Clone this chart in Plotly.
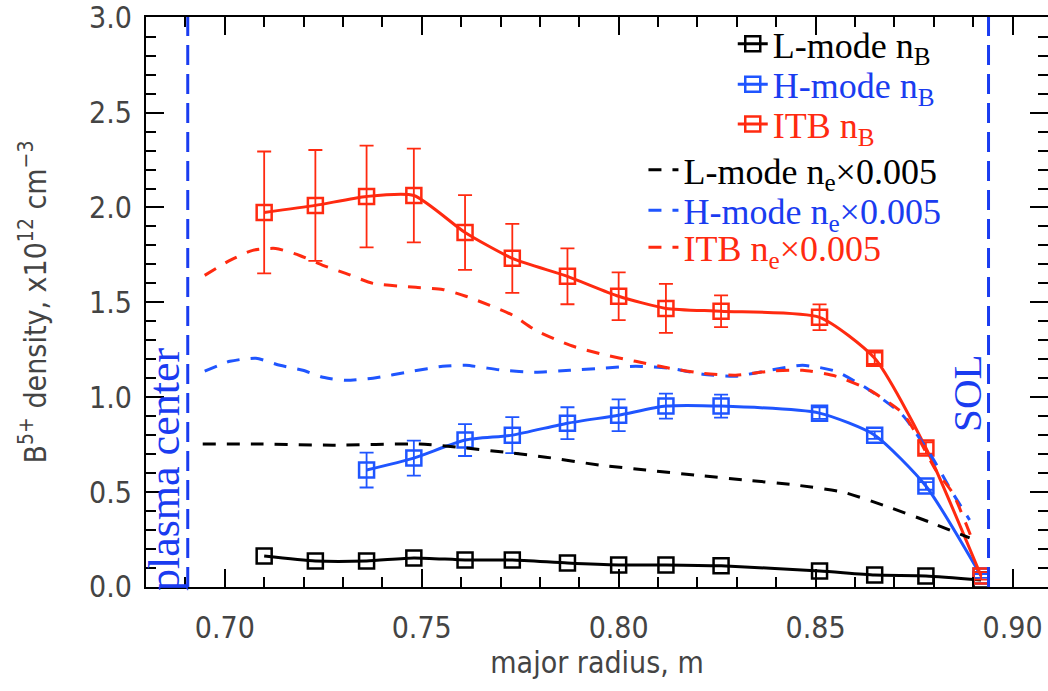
import plotly.graph_objects as go

# ---------------- data ----------------
radius_B = [0.710, 0.723, 0.736, 0.748, 0.761, 0.773, 0.787, 0.800, 0.812, 0.826, 0.851, 0.865, 0.878, 0.892]
lmode_nB = [0.163, 0.137, 0.137, 0.153, 0.142, 0.142, 0.126, 0.116, 0.116, 0.111, 0.084, 0.063, 0.058, 0.037]

radius_H = [0.736, 0.748, 0.761, 0.773, 0.787, 0.800, 0.812, 0.826, 0.851, 0.865, 0.878, 0.892]
hmode_nB = [0.616, 0.679, 0.774, 0.800, 0.863, 0.905, 0.953, 0.953, 0.916, 0.800, 0.532, 0.058]
hmode_err = [0.092, 0.092, 0.084, 0.095, 0.084, 0.084, 0.066, 0.061, 0.03, 0.02, 0.02, 0.01]

itb_nB = [1.974, 2.011, 2.058, 2.063, 1.868, 1.732, 1.637, 1.532, 1.468, 1.453, 1.421, 1.205, 0.732, 0.058]
itb_err = [0.321, 0.292, 0.268, 0.247, 0.197, 0.182, 0.147, 0.126, 0.129, 0.084, 0.068, 0.03, 0.03, 0.02]

radius_L_ne = [0.6944, 0.7096, 0.7274, 0.7495, 0.7612, 0.7731, 0.7815, 0.7952, 0.8069, 0.8195,
               0.8322, 0.8449, 0.8569, 0.8678, 0.8789, 0.8891]
lmode_ne = [0.753, 0.753, 0.747, 0.753, 0.732, 0.705, 0.684, 0.642, 0.616, 0.589,
            0.563, 0.537, 0.500, 0.426, 0.342, 0.258]

radius_I_ne = [0.6949, 0.7013, 0.7071, 0.7129, 0.7190, 0.7249, 0.7307, 0.7376, 0.7485, 0.7553,
               0.7612, 0.7673, 0.7731, 0.7789, 0.7876, 0.7959, 0.8043, 0.8129, 0.8213, 0.8297,
               0.8383, 0.8467, 0.8551, 0.8637, 0.8721, 0.8754, 0.8805, 0.8848, 0.8893]
itb_ne = [1.642, 1.721, 1.774, 1.784, 1.747, 1.695, 1.653, 1.600, 1.579, 1.568,
          1.532, 1.484, 1.432, 1.353, 1.274, 1.226, 1.189, 1.153, 1.126, 1.116,
          1.137, 1.142, 1.111, 1.037, 0.916, 0.811, 0.616, 0.495, 0.274]

radius_H_ne = [0.6949, 0.7013, 0.7079, 0.7140, 0.7198, 0.7249, 0.7307, 0.7376, 0.7477, 0.7553,
               0.7612, 0.7706, 0.7789, 0.7876, 0.7959, 0.8043, 0.8129, 0.8213, 0.8297, 0.8383,
               0.8467, 0.8551, 0.8637, 0.8721, 0.8797, 0.8848, 0.8891]
hmode_ne = [1.137, 1.189, 1.205, 1.168, 1.142, 1.105, 1.089, 1.100, 1.137, 1.163,
            1.168, 1.142, 1.132, 1.142, 1.153, 1.163, 1.153, 1.121, 1.111, 1.142,
            1.168, 1.137, 1.037, 0.905, 0.679, 0.495, 0.353]

plasma_center_R = 0.6906
sol_R = 0.8939

# ---------------- style ----------------
BLACK = "#000000"
BLUE = "#1f55ff"
RED = "#ff2a10"
LINEBLUE = "#1a3cf0"
AXFONT = "Liberation Sans Narrow, DejaVu Sans Condensed, Liberation Sans, sans-serif"
SERIF = "Liberation Serif, Times New Roman, serif"

fig = go.Figure()

def solid(x, y, err, color, name, leg):
    tr = dict(x=x, y=y, mode="lines+markers", name=name, legend=leg,
              line=dict(color=color, width=3, shape="spline", smoothing=0.6),
              marker=dict(symbol="square-open", size=15, color=color, line=dict(width=2.5, color=color)))
    if err is not None:
        tr["error_y"] = dict(type="data", array=err, visible=True, color=color, thickness=1.8, width=7)
    fig.add_trace(go.Scatter(**tr))

def dashed(x, y, color, name, leg):
    fig.add_trace(go.Scatter(x=x, y=y, mode="lines", name=name, legend=leg,
                             line=dict(color=color, width=3, dash="13px,11px", shape="spline", smoothing=0.6)))

def span(color, txt):
    return f"<span style='color:{color}'>{txt}</span>"

solid(radius_B, lmode_nB, None, BLACK, span(BLACK, "L-mode n<sub>B</sub>"), "legend")
solid(radius_H, hmode_nB, hmode_err, BLUE, span(LINEBLUE, "H-mode n<sub>B</sub>"), "legend2")
solid(radius_B, itb_nB, itb_err, RED, span(RED, "ITB n<sub>B</sub>"), "legend3")
dashed(radius_L_ne, lmode_ne, BLACK, span(BLACK, "L-mode n<sub>e</sub>×0.005"), "legend4")
dashed(radius_H_ne, hmode_ne, BLUE, span(LINEBLUE, "H-mode n<sub>e</sub>×0.005"), "legend5")
dashed(radius_I_ne, itb_ne, RED, span(RED, "ITB n<sub>e</sub>×0.005"), "legend6")

# vertical markers of plasma center and SOL
for xv in (plasma_center_R, sol_R):
    fig.add_shape(type="line", xref="x", yref="paper", x0=xv, x1=xv, y0=0, y1=1,
                  line=dict(color=LINEBLUE, width=3, dash="20px,9px"))

fig.add_annotation(x=plasma_center_R, y=0.62, xref="x", yref="y", text="plasma center",
                   textangle=-90, showarrow=False, xshift=-23,
                   font=dict(family=SERIF, size=44, color=LINEBLUE))
fig.add_annotation(x=sol_R, y=1.02, xref="x", yref="y", text="SOL",
                   textangle=-90, showarrow=False, xshift=-21,
                   font=dict(family=SERIF, size=41, color=LINEBLUE))

# legends: one row each
rows = [("legend", 0.6505, 0.953), ("legend2", 0.6505, 0.882), ("legend3", 0.6505, 0.812),
        ("legend4", 0.5515, 0.732), ("legend5", 0.5515, 0.661), ("legend6", 0.5515, 0.596)]
layout_legends = {}
for key, lx, ly in rows:
    layout_legends[key] = dict(x=lx, y=ly, xanchor="left", yanchor="middle",
                               bgcolor="rgba(0,0,0,0)", borderwidth=0,
                               font=dict(family=SERIF, size=36, color=BLACK),
                               itemwidth=30, tracegroupgap=0)

fig.update_layout(
    width=1048, height=691,
    margin=dict(l=146, r=0, t=17, b=104),
    paper_bgcolor="white", plot_bgcolor="white",
    showlegend=True,
    **layout_legends,
)

fig.update_xaxes(
    range=[0.68, 0.909], showgrid=False, zeroline=False, automargin=False,
    showline=True, linecolor=BLACK, linewidth=2, mirror="ticks",
    ticks="inside", ticklen=18, tickwidth=1.5, tickcolor=BLACK,
    tickmode="linear", tick0=0.70, dtick=0.05, tickformat=".2f", ticklabelstandoff=13,
    ticklabeloverflow="allow",
    tickfont=dict(family=AXFONT, size=30, color="#444"),
    minor=dict(ticks="inside", ticklen=10, tickwidth=1.5, tickcolor=BLACK, dtick=0.01, showgrid=False),
    title=dict(text="major radius, m", font=dict(family=AXFONT, size=30, color="#444"), standoff=8),
)
fig.update_yaxes(
    range=[-0.0005, 3.004], showgrid=False, zeroline=False, automargin=False,
    showline=True, linecolor=BLACK, linewidth=2, mirror="ticks",
    ticks="inside", ticklen=18, tickwidth=1.5, tickcolor=BLACK,
    tickmode="linear", tick0=0.0, dtick=0.5, tickformat=".1f", ticklabelstandoff=6,
    ticklabeloverflow="allow",
    tickfont=dict(family=AXFONT, size=30, color="#444"),
    minor=dict(ticks="inside", ticklen=10, tickwidth=1.5, tickcolor=BLACK, dtick=0.1, showgrid=False),
    title=dict(text="B<sup>5+</sup> density, x10<sup>12</sup> cm<sup>−3</sup>",
               font=dict(family=AXFONT, size=30, color="#444"), standoff=34),
)

fig.write_html("out.html", config={"displayModeBar": False},
               post_script="document.body.style.margin='0px';")
